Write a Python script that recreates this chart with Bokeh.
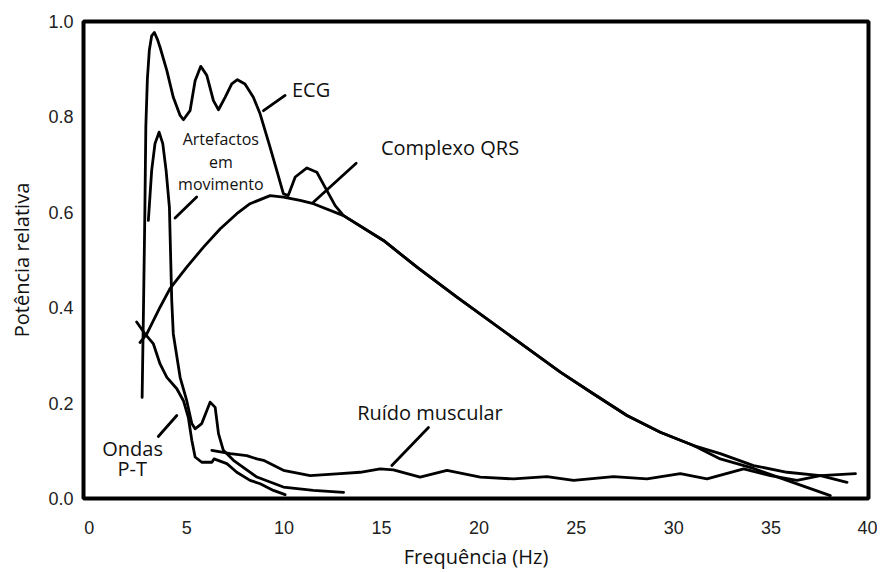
from bokeh.plotting import figure
from bokeh.models import FixedTicker, Label, NumeralTickFormatter
from bokeh.embed import file_html
from bokeh.resources import INLINE

# ---- data ----
x_ticks = [0, 5, 10, 15, 20, 25, 30, 35, 40]
y_ticks = [0.0, 0.2, 0.4, 0.6, 0.8, 1.0]

ecg_x = [2.71, 2.78, 2.85, 2.90, 2.98, 3.08, 3.20, 3.34, 3.50, 3.63, 3.98, 4.31, 4.66, 4.83,
         5.17, 5.43, 5.72, 6.03, 6.37, 6.63, 6.97, 7.31, 7.60, 7.99, 8.42, 8.77, 9.28, 9.62,
         9.96, 10.21, 10.57, 11.17, 11.68, 12.19, 12.62, 13.05, 15.10, 16.82, 18.87, 21.95,
         24.18, 25.89, 27.60, 29.31, 31.02, 32.39, 34.10, 35.82, 38.04]
ecg_y = [0.212, 0.400, 0.600, 0.780, 0.880, 0.940, 0.970, 0.977, 0.962, 0.946, 0.897, 0.841,
         0.803, 0.794, 0.813, 0.876, 0.906, 0.887, 0.834, 0.815, 0.841, 0.869, 0.878, 0.869,
         0.841, 0.806, 0.736, 0.688, 0.639, 0.635, 0.674, 0.693, 0.684, 0.646, 0.614, 0.593,
         0.541, 0.485, 0.422, 0.331, 0.265, 0.219, 0.174, 0.139, 0.111, 0.083, 0.063, 0.038,
         0.006]

qrs_x = [2.60, 2.95, 3.63, 4.14, 5.00, 5.86, 6.71, 7.57, 8.25, 9.28, 9.96, 10.82, 11.50,
         13.05, 15.10, 16.82, 18.87, 21.95, 24.18, 25.89, 27.60, 29.31, 31.02, 32.39, 34.10,
         35.82, 37.53, 38.90]
qrs_y = [0.327, 0.345, 0.401, 0.440, 0.485, 0.527, 0.565, 0.597, 0.618, 0.635, 0.632, 0.625,
         0.618, 0.593, 0.541, 0.485, 0.422, 0.331, 0.265, 0.219, 0.174, 0.139, 0.111, 0.094,
         0.069, 0.055, 0.048, 0.034]

artefact_x = [3.03, 3.20, 3.37, 3.58, 3.77, 3.94, 4.11, 4.23, 4.31, 4.66, 5.00, 5.26, 5.43,
              5.77, 6.20, 6.46, 6.63, 6.88, 7.40, 8.60, 9.96, 11.50, 13.05]
artefact_y = [0.583, 0.688, 0.744, 0.768, 0.744, 0.688, 0.611, 0.415, 0.345, 0.254, 0.205,
              0.157, 0.146, 0.157, 0.202, 0.191, 0.136, 0.101, 0.080, 0.045, 0.024, 0.017,
              0.013]

pt_x = [2.43, 2.86, 3.29, 3.63, 3.98, 4.49, 4.83, 5.08, 5.26, 5.43, 5.77, 6.29, 6.40, 7.06,
        7.57, 8.25, 8.77, 9.45, 10.05]
pt_y = [0.370, 0.345, 0.324, 0.282, 0.254, 0.230, 0.205, 0.170, 0.122, 0.087, 0.076, 0.076,
        0.083, 0.073, 0.055, 0.038, 0.031, 0.017, 0.008]

muscle_x = [6.29, 7.23, 8.08, 8.60, 8.94, 9.96, 11.34, 12.88, 13.90, 14.93, 15.61, 16.98,
            18.36, 20.07, 21.78, 23.49, 24.86, 26.91, 28.63, 30.34, 31.71, 33.59, 34.96,
            36.33, 37.53, 39.33]
muscle_y = [0.101, 0.094, 0.090, 0.083, 0.080, 0.059, 0.048, 0.052, 0.055, 0.062, 0.060,
            0.045, 0.059, 0.045, 0.041, 0.046, 0.038, 0.046, 0.041, 0.052, 0.041, 0.062,
            0.048, 0.038, 0.048, 0.052]

TEXT_FONT = "Open Sans"
TICK_FONT = "Liberation Sans"
INK = "#111111"

p = figure(frame_width=785, frame_height=477,
           x_range=(-0.3, 40), y_range=(0, 1.0),
           output_backend="svg", toolbar_location=None,
           min_border_left=83, min_border_top=21, min_border_right=9, min_border_bottom=72)

p.background_fill_color = "white"
p.border_fill_color = "white"
p.outline_line_color = "black"
p.outline_line_width = 4
p.xgrid.visible = False
p.ygrid.visible = False

for ax in (p.xaxis[0], p.yaxis[0]):
    ax.axis_line_color = None
    ax.major_tick_line_color = None
    ax.minor_tick_line_color = None
    ax.major_tick_out = 0
    ax.major_tick_in = 0
    ax.major_label_text_font = TICK_FONT
    ax.major_label_text_font_size = "18px"
    ax.major_label_text_color = "#222222"
    ax.axis_label_text_font = TEXT_FONT
    ax.axis_label_text_font_size = "20px"
    ax.axis_label_text_font_style = "normal"
    ax.axis_label_text_color = INK

p.xaxis.ticker = FixedTicker(ticks=x_ticks)
p.yaxis.ticker = FixedTicker(ticks=y_ticks)
p.yaxis.formatter = NumeralTickFormatter(format="0.0")
p.xaxis.major_label_standoff = 22
p.yaxis.major_label_standoff = 10
p.xaxis.axis_label = "Frequência (Hz)"
p.yaxis.axis_label = "Potência relativa"
p.xaxis.axis_label_standoff = 6
p.yaxis.axis_label_standoff = 10

lw = 2.8
for xs, ys in ((qrs_x, qrs_y), (ecg_x, ecg_y), (artefact_x, artefact_y),
               (pt_x, pt_y), (muscle_x, muscle_y)):
    p.line(xs, ys, line_color="black", line_width=lw, line_join="round", line_cap="round")

# leader lines for the annotations
lead_x0 = [8.94, 11.50, 4.40, 3.54, 15.53]
lead_y0 = [0.813, 0.621, 0.588, 0.130, 0.069]
lead_x1 = [10.05, 13.70, 5.51, 4.49, 17.41]
lead_y1 = [0.845, 0.703, 0.632, 0.174, 0.149]
p.segment(lead_x0, lead_y0, lead_x1, lead_y1, line_color="black", line_width=2.8,
          line_cap="round")

def add_label(x, y, txt, size="20px", align="left"):
    p.add_layout(Label(x=x, y=y, text=txt, text_font=TEXT_FONT, text_font_size=size,
                       text_color=INK, text_align=align, text_baseline="middle"))

add_label(10.40, 0.857, "ECG")
add_label(14.97, 0.735, "Complexo QRS")
add_label(6.75, 0.753, "Artefactos", "16px", "center")
add_label(6.75, 0.705, "em", "16px", "center")
add_label(6.75, 0.660, "movimento", "16px", "center")
add_label(2.22, 0.104, "Ondas", "20px", "center")
add_label(2.20, 0.062, "P-T", "20px", "center")
add_label(13.75, 0.181, "Ruído muscular")

open("out.html", "w").write(file_html(p, INLINE))
